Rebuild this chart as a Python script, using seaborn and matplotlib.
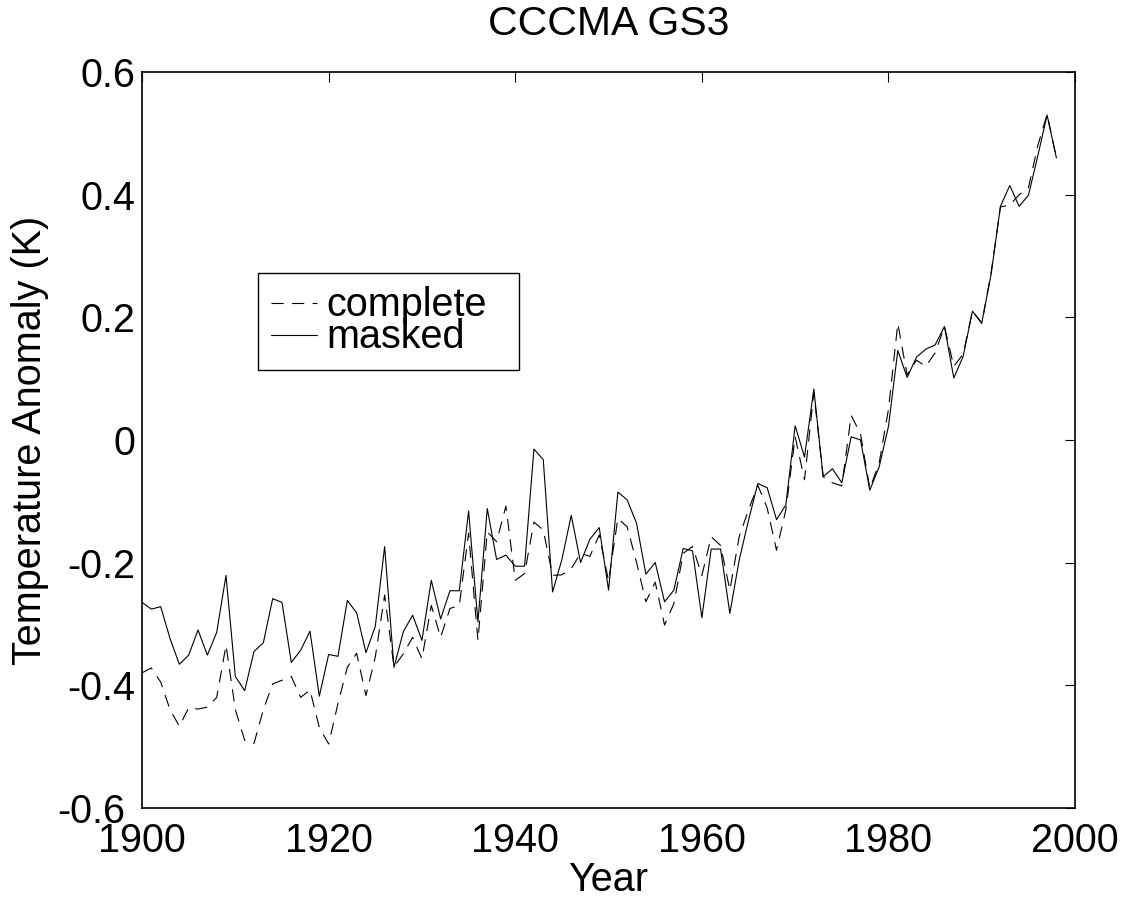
# CCCMA GS3 temperature anomaly: complete vs masked coverage
import numpy as np
import pandas as pd
import seaborn as sns
import matplotlib.pyplot as plt
from matplotlib.transforms import ScaledTranslation

# --- Data ---
years = np.arange(1900, 1999)

masked = [
    -0.265, -0.276, -0.272, -0.324, -0.366, -0.351, -0.310, -0.351, -0.314, -0.221,
    -0.386, -0.409, -0.345, -0.331, -0.259, -0.265, -0.363, -0.343, -0.312, -0.418,
    -0.350, -0.353, -0.262, -0.282, -0.347, -0.304, -0.174, -0.371, -0.313, -0.286,
    -0.327, -0.229, -0.292, -0.246, -0.246, -0.116, -0.297, -0.112, -0.195, -0.188,
    -0.206, -0.206, -0.015, -0.032, -0.248, -0.195, -0.123, -0.200, -0.162, -0.143,
    -0.245, -0.085, -0.098, -0.136, -0.219, -0.200, -0.264, -0.245, -0.177, -0.181,
    -0.290, -0.178, -0.178, -0.283, -0.196, -0.131, -0.071, -0.078, -0.130, -0.106,
    0.023, -0.028, 0.083, -0.060, -0.047, -0.070, 0.005, 0.000, -0.082, -0.044,
    0.022, 0.146, 0.102, 0.135, 0.148, 0.155, 0.185, 0.101, 0.136, 0.210,
    0.191, 0.270, 0.381, 0.415, 0.381, 0.399, 0.463, 0.530, 0.460,
]

complete = [
    -0.380, -0.372, -0.395, -0.440, -0.467, -0.437, -0.439, -0.436, -0.420, -0.335,
    -0.440, -0.490, -0.495, -0.440, -0.398, -0.392, -0.386, -0.420, -0.408, -0.469,
    -0.496, -0.430, -0.371, -0.348, -0.417, -0.354, -0.253, -0.370, -0.349, -0.322,
    -0.357, -0.270, -0.322, -0.275, -0.270, -0.152, -0.327, -0.150, -0.166, -0.108,
    -0.229, -0.218, -0.134, -0.147, -0.221, -0.220, -0.210, -0.185, -0.190, -0.155,
    -0.230, -0.128, -0.142, -0.200, -0.264, -0.232, -0.302, -0.267, -0.185, -0.174,
    -0.221, -0.158, -0.172, -0.245, -0.158, -0.114, -0.074, -0.111, -0.180, -0.114,
    0.005, -0.065, 0.077, -0.060, -0.070, -0.075, 0.040, 0.010, -0.079, -0.038,
    0.050, 0.190, 0.106, 0.130, 0.120, 0.142, 0.185, 0.120, 0.140, 0.210,
    0.190, 0.273, 0.380, 0.383, 0.400, 0.411, 0.480, 0.531, 0.460,
]

xticks = [1900, 1920, 1940, 1960, 1980, 2000]
yticks = [-0.6, -0.4, -0.2, 0.0, 0.2, 0.4, 0.6]
ytick_labels = ["-0.6", "-0.4", "-0.2", "0", "0.2", "0.4", "0.6"]

df = pd.DataFrame({"Year": years, "complete": complete, "masked": masked})

# --- Style ---
sns.set_style("white")
plt.rcParams["font.family"] = ["Liberation Sans", "DejaVu Sans"]
plt.rcParams["axes.unicode_minus"] = False
for key in ["text.color", "axes.labelcolor", "xtick.color", "ytick.color"]:
    plt.rcParams[key] = "black"
FS = 28.5

fig = plt.figure(figsize=(11.3, 9.01), dpi=100)
ax = fig.add_axes([0.1257, 0.1035, 0.8257, 0.8165])

sns.lineplot(data=df, x="Year", y="complete", ax=ax, color="black",
             linewidth=0.8, linestyle=(0, (11, 7.5)), label="complete")
sns.lineplot(data=df, x="Year", y="masked", ax=ax, color="black",
             linewidth=0.8, label="masked")

ax.set_xlim(1900, 2000)
ax.set_ylim(-0.6, 0.6)
ax.set_xticks(xticks)
ax.set_yticks(yticks)
ax.set_yticklabels(ytick_labels)

for side in ["left", "right", "top", "bottom"]:
    ax.spines[side].set_color("black")
    ax.spines[side].set_linewidth(1.2)

ax.tick_params(axis="both", direction="in", length=7.5, width=0.8,
               top=True, right=True, labelsize=FS, colors="black")
ax.tick_params(axis="x", pad=10)
ax.tick_params(axis="y", pad=5)

# bottom y label sits a little further left in the reference
lowest = ax.get_yticklabels()[0]
lowest.set_transform(lowest.get_transform()
                     + ScaledTranslation(-0.10, 0, fig.dpi_scale_trans))

ax.set_title("CCCMA GS3", fontsize=29.5, pad=27)
ax.set_xlabel("Year", fontsize=FS, labelpad=1)
ax.set_ylabel("Temperature Anomaly (K)", fontsize=FS, labelpad=6)

leg = ax.legend(loc="upper left", bbox_to_anchor=(0.124, 0.599, 0.28, 0.128),
                mode="expand", borderaxespad=0, fontsize=FS, frameon=True,
                fancybox=False, edgecolor="black", framealpha=1,
                handlelength=1.15, handletextpad=0.25, labelspacing=-0.15,
                borderpad=0.34)
leg.get_frame().set_linewidth(1.0)

fig.savefig("out.png", dpi=100)
